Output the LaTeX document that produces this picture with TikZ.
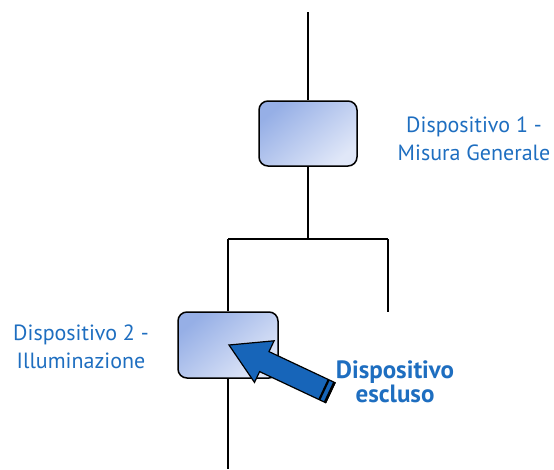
\documentclass[tikz,border=0pt]{standalone}
\usepackage{fontspec}
\setmainfont{PT Sans}
\definecolor{txtblue}{RGB}{30,110,192}
\definecolor{arrblue}{RGB}{23,101,185}
\definecolor{boxdark}{RGB}{150,175,230}
\definecolor{boxlight}{RGB}{224,231,248}
\begin{document}
\begin{tikzpicture}[x=1pt,y=-1pt,
  devbox/.style={draw=black,line width=1.5pt,rounded corners=9pt,minimum width=98pt,minimum height=65pt,inner sep=0pt,
    shading=axis,left color=boxdark,right color=boxlight,shading angle=40},
  wire/.style={line width=1.6pt,black},
  lbl/.style={text=txtblue,align=center,font=\fontsize{22}{28.5}\selectfont},
  lblb/.style={text=txtblue,align=center,font=\bfseries\fontsize{25}{24}\selectfont}]
\useasboundingbox (0,0) rectangle (554,469);
\node[devbox] (d1) at (308,133.5) {};
\node[devbox,minimum width=100pt,minimum height=66pt] (d2) at (228,345) {};
\coordinate (top) at (308,12);
\coordinate (bus) at (308,239);
\coordinate (busl) at (228,239);
\coordinate (busr) at (388,239);
\coordinate (rend) at (388,312);
\coordinate (bot) at (228,469);
\draw[wire] (top) -- (d1.north);
\draw[wire] (d1.south) -- (bus);
\draw[wire] (busl) -- (busr);
\draw[wire] (busl) -- (d2.north);
\draw[wire] (busr) -- (rend);
\draw[wire] (d2.south) -- (bot);
\node[lbl] (l1) at (474,139) {Dispositivo 1 -\\Misura Generale};
\node[lbl] (l2) at (81,347) {Dispositivo 2 -\\Illuminazione};
\node[lblb] (l3) at (395,381.5) {Dispositivo\\escluso};
% big arrow
\fill[arrblue,draw=black,line width=1.2pt,line join=miter]
  (229,345) -- (274.1,340.8) -- (269.0,351.6) -- (335.1,382.7) -- (325.7,402.7) -- (259.6,371.6) -- (254.5,382.4) -- cycle;
\draw[black,line width=2.2pt] (328.7,379.7) -- (319.3,399.7);
\draw[black,line width=2.6pt] (334.4,382.4) -- (325.0,402.4);
\end{tikzpicture}
\end{document}
